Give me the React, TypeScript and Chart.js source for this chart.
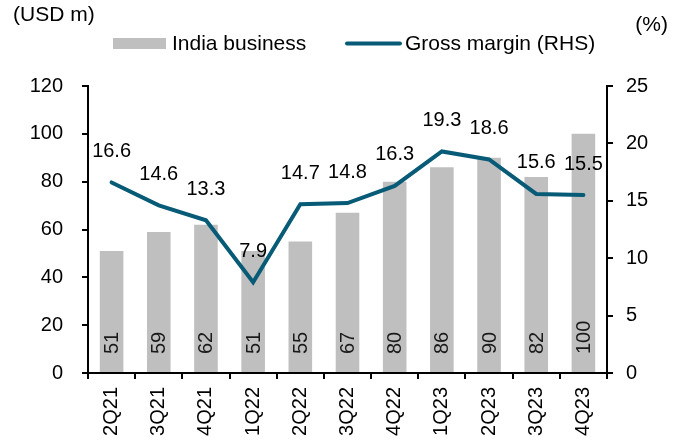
import React, { useEffect, useRef } from "react";
import { Chart, registerables } from "chart.js";

Chart.register(...registerables);

const categories = ["2Q21", "3Q21", "4Q21", "1Q22", "2Q22", "3Q22", "4Q22", "1Q23", "2Q23", "3Q23", "4Q23"];
const indiaBusiness = [51, 59, 62, 51, 55, 67, 80, 86, 90, 82, 100];
const grossMargin = [16.6, 14.6, 13.3, 7.9, 14.7, 14.8, 16.3, 19.3, 18.6, 15.6, 15.5];
const leftTicks = [0, 20, 40, 60, 80, 100, 120];
const rightTicks = [0, 5, 10, 15, 20, 25];

const FONT = "'Liberation Sans', Arial, Helvetica, sans-serif";
const BAR_COLOR = "#bfbfbf";
const LINE_COLOR = "#075b77";

const overlayPlugin = {
  id: "overlay",
  afterDatasetsDraw(chart: any) {
    const ctx = chart.ctx;
    const xs = chart.scales.x;
    const yl = chart.scales.y;
    const yr = chart.scales.y1;
    ctx.save();
    // bar labels (rotated)
    ctx.font = `20px ${FONT}`;
    ctx.fillStyle = "#1a1a1a";
    const barMeta = chart.getDatasetMeta(0);
    barMeta.data.forEach((el: any, i: number) => {
      ctx.save();
      ctx.translate(el.x, yl.getPixelForValue(0) - 19);
      ctx.rotate(-Math.PI / 2);
      ctx.textAlign = "left";
      ctx.textBaseline = "middle";
      ctx.fillText(String(indiaBusiness[i]), 0, 1);
      ctx.restore();
    });
    // line labels
    const lineMeta = chart.getDatasetMeta(1);
    ctx.fillStyle = "#000";
    ctx.textAlign = "center";
    ctx.textBaseline = "middle";
    lineMeta.data.forEach((el: any, i: number) => {
      ctx.fillText(grossMargin[i].toFixed(1), el.x, el.y - 31);
    });
    ctx.restore();
  },
  afterDraw(chart: any) {
    const ctx = chart.ctx;
    ctx.save();
    ctx.font = `21px ${FONT}`;
    ctx.fillStyle = "#000";
    ctx.textBaseline = "middle";
    ctx.textAlign = "left";
    ctx.fillText("(USD m)", 13, 15);
    ctx.textAlign = "right";
    ctx.fillText("(%)", 668, 25);
    // legend
    ctx.fillStyle = BAR_COLOR;
    ctx.fillRect(113, 38, 53, 11);
    ctx.fillStyle = "#000";
    ctx.textAlign = "left";
    ctx.fillText("India business", 172, 44);
    ctx.strokeStyle = LINE_COLOR;
    ctx.lineWidth = 4;
    ctx.lineCap = "round";
    ctx.beginPath();
    ctx.moveTo(347, 43.5);
    ctx.lineTo(400, 43.5);
    ctx.stroke();
    ctx.fillText("Gross margin (RHS)", 405, 44);
    ctx.restore();
  },
};

export default function App() {
  const ref = useRef<HTMLCanvasElement>(null);
  useEffect(() => {
    if (!ref.current) return;
    const chart = new Chart(ref.current, {
      type: "bar",
      data: {
        labels: categories,
        datasets: [
          {
            type: "bar",
            label: "India business",
            data: indiaBusiness,
            backgroundColor: BAR_COLOR,
            barPercentage: 0.5,
            categoryPercentage: 1,
            yAxisID: "y",
            order: 2,
          },
          {
            type: "line",
            label: "Gross margin (RHS)",
            data: grossMargin,
            borderColor: LINE_COLOR,
            backgroundColor: LINE_COLOR,
            borderWidth: 4,
            pointRadius: 0,
            tension: 0,
            borderCapStyle: "round",
            yAxisID: "y1",
            order: 1,
          } as any,
        ],
      },
      options: {
        responsive: false,
        animation: false,
        devicePixelRatio: 1,
        layout: { padding: { top: 86, left: 0, right: 0, bottom: 0 } },
        plugins: { legend: { display: false }, tooltip: { enabled: false } },
        scales: {
          x: {
            grid: { display: true, drawOnChartArea: false, drawTicks: true, tickLength: 6, color: "#000", lineWidth: 2, offset: true },
            border: { display: true, color: "#000", width: 2 },
            ticks: { color: "#000", font: { size: 20, family: FONT }, minRotation: 90, maxRotation: 90, autoSkip: false, padding: 8 },
            afterFit: (s: any) => { s.height = 68; },
          },
          y: {
            position: "left",
            min: 0,
            max: 120,
            afterBuildTicks: (s: any) => { s.ticks = leftTicks.map((v) => ({ value: v })); },
            grid: { display: true, drawOnChartArea: false, drawTicks: true, tickLength: 6, color: "#000", lineWidth: 2 },
            border: { display: true, color: "#000", width: 2 },
            ticks: { color: "#000", font: { size: 20, family: FONT }, padding: 19 },
            afterFit: (s: any) => { s.width = 88; },
          },
          y1: {
            position: "right",
            min: 0,
            max: 25,
            afterBuildTicks: (s: any) => { s.ticks = rightTicks.map((v) => ({ value: v })); },
            grid: { display: true, drawOnChartArea: false, drawTicks: true, tickLength: 6, color: "#000", lineWidth: 2 },
            border: { display: true, color: "#000", width: 2 },
            ticks: { color: "#000", font: { size: 20, family: FONT }, padding: 13 },
            afterFit: (s: any) => { s.width = 75; },
          },
        },
      },
      plugins: [overlayPlugin],
    });
    return () => chart.destroy();
  }, []);
  return (
    <div style={{ position: "absolute", left: 0, top: 0, width: 682, height: 441, background: "#fff" }}>
      <canvas ref={ref} width={682} height={441} style={{ display: "block" }} />
    </div>
  );
}
